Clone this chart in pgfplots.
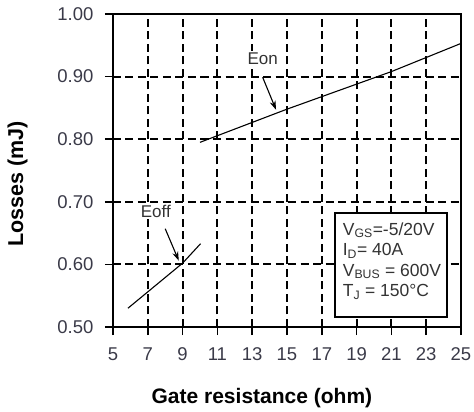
\documentclass[border=0pt]{standalone}
\usepackage{fontspec}
\setmainfont{Liberation Sans}
\usepackage{pgfplots}
\pgfplotsset{compat=1.18}
\usetikzlibrary{arrows.meta}
\definecolor{tickc}{HTML}{3A3A48}
\definecolor{txtc}{HTML}{333333}
\begin{document}
\begin{tikzpicture}
\begin{axis}[
  name=ax,
  width=348pt, height=313pt, scale only axis,
  xmin=5, xmax=25, ymin=0.5, ymax=1.0,
  xtick={5,7,...,25}, ytick={0.5,0.6,0.7,0.8,0.9,1.0},
  yticklabel style={xshift=-8pt, /pgf/number format/.cd, fixed, fixed zerofill, precision=2},
  /pgf/number format/assume math mode=true,
  tick label style={font=\fontsize{18.5}{20}\selectfont, color=tickc},
  xticklabel style={yshift=-9pt},
  tick align=outside, major tick length=8pt,
  xtick pos=bottom, ytick pos=left,
  tick style={black, line width=1.6pt},
  axis line style={black, line width=2.6pt},
  grid=major,
  major grid style={black, line width=2.1pt, dash pattern=on 8pt off 4.5pt},
  xlabel={Gate resistance (ohm)},
  xlabel style={font=\bfseries\fontsize{21}{23}\selectfont, at={(axis description cs:0.428,-0.243)}, anchor=base},
  ylabel={Losses (mJ)},
  ylabel style={font=\bfseries\fontsize{21.5}{23}\selectfont, at={(axis description cs:-0.258,0.458)}, anchor=base},
]
\addplot[black, line width=1.1pt] coordinates {(10,0.795) (15,0.848) (21,0.908) (25,0.953)};
\addplot[black, line width=1.1pt] coordinates {(5.86,0.530) (9,0.602) (10.03,0.633)};
% annotations
\node[fill=white, inner sep=2pt, font=\fontsize{17}{18}\selectfont, text=txtc] at (axis cs:13.6,0.928) {Eon};
\draw[black, line width=1.1pt, -{Stealth[length=9pt,width=6pt]}] (axis cs:13.6,0.899) -- (axis cs:14.37,0.847);
\node[fill=white, inner sep=2pt, font=\fontsize{17}{18}\selectfont, text=txtc] at (axis cs:7.46,0.685) {Eoff};
\draw[black, line width=1.1pt, -{Stealth[length=9pt,width=6pt]}] (axis cs:8.0,0.657) -- (axis cs:8.78,0.606);
% condition box
\draw[black, line width=2.2pt, fill=white] (axis cs:17.76,0.516) rectangle (axis cs:24.2,0.682);
\node[anchor=north west, align=left, inner sep=0pt, text=txtc, font=\fontsize{17.5}{20.5}\selectfont] at (axis cs:18.2,0.667)
  {V\textsubscript{GS}=-5/20V\\I\textsubscript{D}= 40A\\V\textsubscript{BUS} = 600V\\T\textsubscript{J} = 150°C};
\end{axis}
\pgfresetboundingbox
\path[use as bounding box] (ax.south west) ++(-113pt,-85pt) rectangle ++(474pt,412pt);
\end{tikzpicture}
\end{document}
